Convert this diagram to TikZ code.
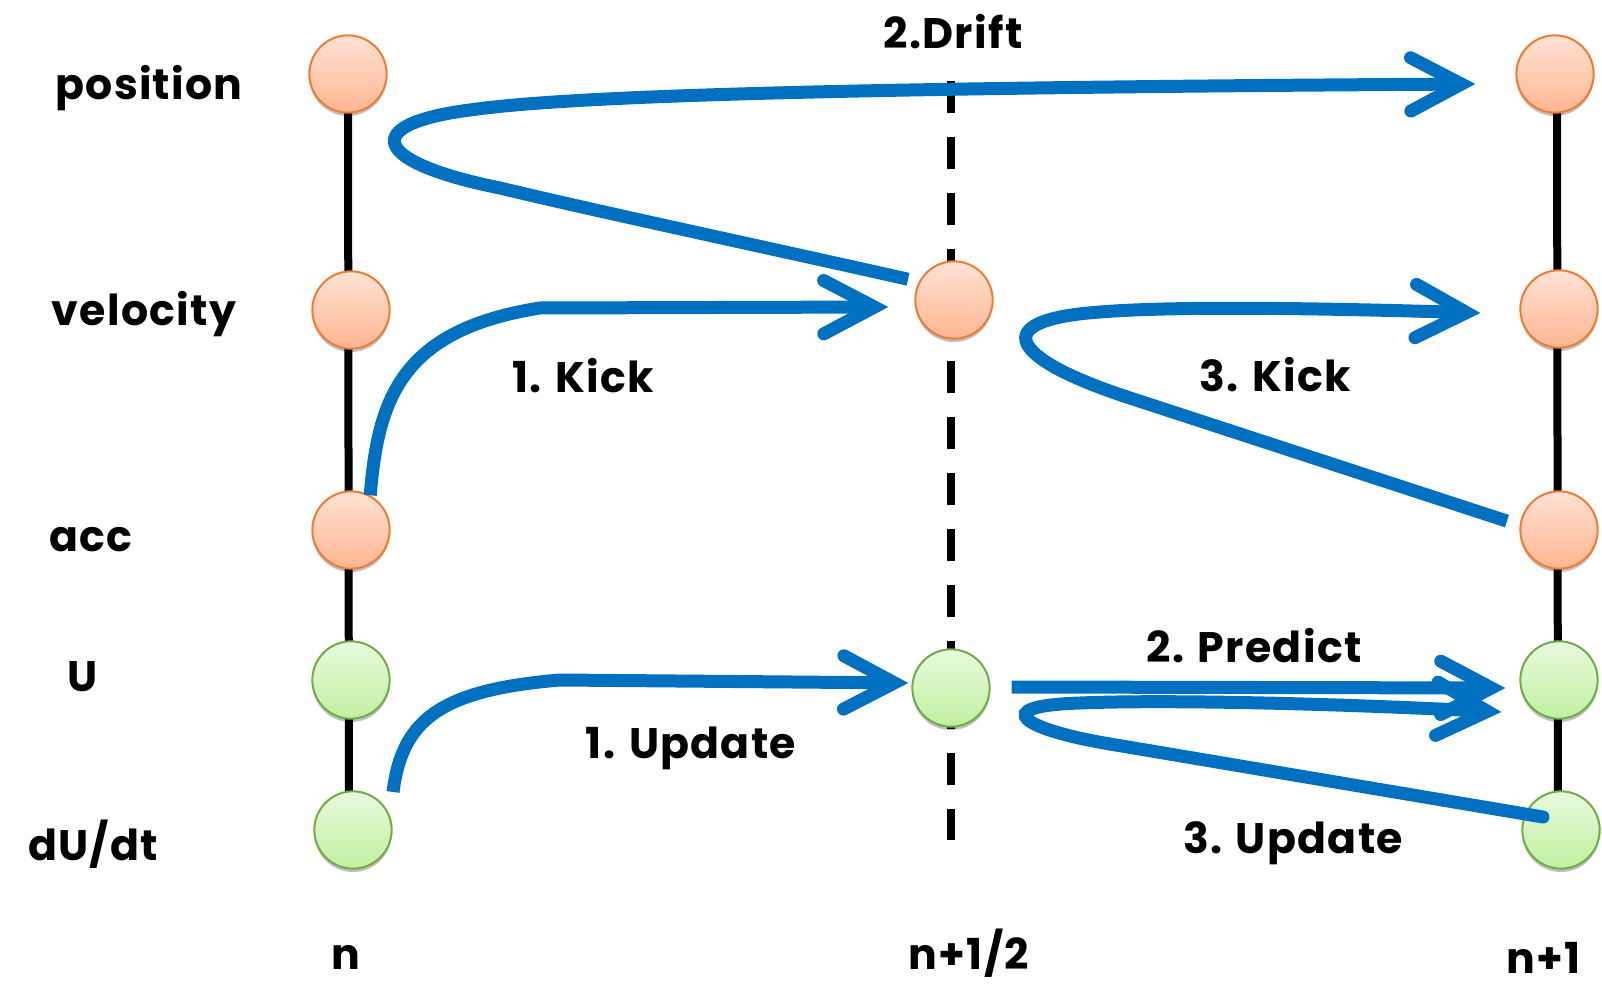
\documentclass[tikz,border=0pt]{standalone}
\usepackage{fontspec}
\setmainfont{Poppins}[LetterSpace=3]
\usetikzlibrary{arrows.meta,shadows}
\definecolor{myblue}{RGB}{0,112,192}
\definecolor{orbord}{RGB}{237,125,49}
\definecolor{ortop}{RGB}{255,226,212}
\definecolor{orbot}{RGB}{255,182,145}
\definecolor{grbord}{RGB}{112,173,71}
\definecolor{grtop}{RGB}{232,250,222}
\definecolor{grbot}{RGB}{193,239,160}
\tikzset{
  dot/.style={circle, minimum size=58pt, inner sep=0pt, line width=1.5pt,
    drop shadow={shadow xshift=0pt, shadow yshift=-2.5pt, opacity=0.25, fill=black}},
  odot/.style={dot, draw=orbord, top color=ortop, bottom color=orbot},
  gdot/.style={dot, draw=grbord, top color=grtop, bottom color=grbot},
  lbl/.style={font=\fontsize{32}{36}\selectfont\bfseries, inner sep=0pt},
  timeline/.style={line width=6pt, black},
  dashline/.style={line width=6pt, black, dash pattern=on 24pt off 18pt},
  arr/.style={draw=myblue, line width=9.75pt,
    -{Straight Barb[length=38pt,width=40pt,line cap=round,line join=miter]}},
}
\begin{document}
\begin{tikzpicture}[x=0.75pt,y=-0.75pt]
\useasboundingbox (0,0) rectangle (1602,991);
% timelines
\coordinate (dtop) at (951,81);
\coordinate (dbot) at (951,840);
\draw[dashline] (dtop) -- (dbot);
\coordinate (ltop) at (348,74);
\coordinate (lbot) at (349,830);
\coordinate (rtop) at (1557,74);
\coordinate (rbot) at (1558,830);
\draw[timeline] (ltop) -- (lbot);
\draw[timeline] (rtop) -- (rbot);
% nodes
\node[odot] (pL) at (348,74) {};
\node[odot] (vL) at (351,310) {};
\node[odot] (aL) at (351,530) {};
\node[gdot] (uL) at (351,680) {};
\node[gdot] (dL) at (353,830) {};
\node[odot] (vM) at (954,300) {};
\node[gdot] (uM) at (951,688) {};
\node[odot] (pR) at (1555,74) {};
\node[odot] (vR) at (1559,309) {};
\node[odot] (aR) at (1559,530) {};
\node[gdot] (uR) at (1559,680) {};
\node[gdot] (dR) at (1561,830) {};
% row labels
\node[lbl] (tpos) at (149,88) {position};
\node[lbl] (tvel) at (144,314) {velocity};
\node[lbl] (tacc) at (91,540) {acc};
\node[lbl] (tU) at (83,677) {U};
\node[lbl] (tdU) at (93,844) {dU/dt};
\node[lbl] (tn) at (346,957) {n};
\node[lbl] (tnh) at (969,953) {n+1/2};
\node[lbl, anchor=west] (tn1) at (1506,958) {n+1};
% step labels
\node[lbl] (ldrift) at (953,32) {2.Drift};
\node[lbl] (lk1) at (583,376) {1. Kick};
\node[lbl] (lk3) at (1275,375) {3. Kick};
\node[lbl] (lpred) at (1254,646) {2. Predict};
\node[lbl] (lu1) at (691,748) {1. Update};
\node[lbl] (lu3) at (1293,843) {3. Update};
% arrows
% 1. Kick
\draw[arr] (aL.61) .. controls (378,400) and (400,330) .. (540,308)
  -- ([shift={(-26,7)}]vM.west);
% 1. Update
\draw[arr] ([shift={(12,-10)}]dL.45) .. controls (402,720) and (440,690) .. (560,680)
  -- ([shift={(-3,-5)}]uM.west);
% 2. Drift
\draw[arr] ([shift={(-10,-4)}]vM.155) .. controls (760,246) and (600,212) .. (500,188)
  .. controls (370,162) and (360,124) .. (470,110)
  .. controls (560,97) and (800,88) .. ([shift={(-40,10)}]pR.west);
% 3. Kick
\draw[arr] ([shift={(-13,-2)}]aR.170) -- (1130,398)
  .. controls (1010,359) and (985,320) .. (1100,312)
  .. controls (1150,308) and (1250,306) .. ([shift={(-39,4)}]vR.west);
% 2. Predict
\draw[arr] ([shift={(21,-1)}]uM.east) -- ([shift={(-14,8)}]uR.west);
% 3. Update
\draw[arr, line cap=round] ([shift={(-18,-13)}]dR.center) -- (1110,744)
  .. controls (1025,730) and (985,706) .. (1080,703)
  .. controls (1150,700) and (1300,702) .. ([shift={(-18,32)}]uR.west);
\end{tikzpicture}
\end{document}
